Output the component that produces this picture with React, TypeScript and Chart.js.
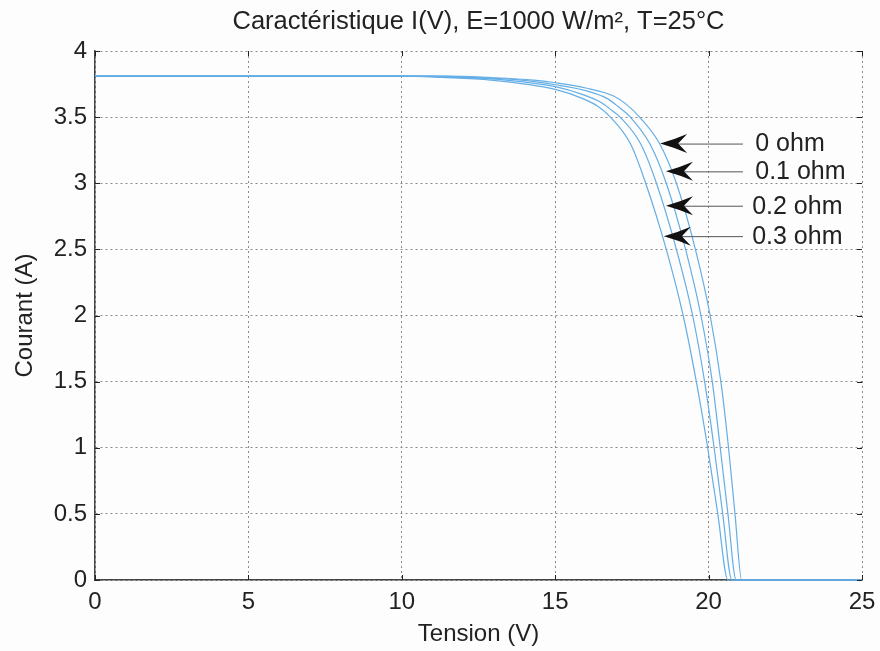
import React, { useEffect, useRef } from "react";
import { Chart, registerables } from "chart.js";

Chart.register(...registerables);

const TITLE = "Caractéristique I(V), E=1000 W/m², T=25°C";
const X_LABEL = "Tension (V)";
const Y_LABEL = "Courant (A)";

const SERIES_NAMES = ["0 ohm", "0.1 ohm", "0.2 ohm", "0.3 ohm"];

const V_R0 = [0, 11.5, 12.8, 14.3, 15, 16, 16.9, 17.3, 17.75, 18.4, 18.95, 19.57, 20.05, 20.4, 20.65, 20.86, 21.08, 25];
const I_R0 = [3.81, 3.81, 3.8, 3.78, 3.76, 3.72, 3.66, 3.6, 3.5, 3.3, 3.0, 2.5, 2.0, 1.5, 1.0, 0.5, 0, 0];

const V_R1 = [0, 11, 12.3, 13.9, 15, 16, 16.7, 17.05, 17.45, 18.08, 18.62, 19.25, 19.75, 20.12, 20.38, 20.63, 20.9, 25];
const I_R1 = [3.81, 3.81, 3.8, 3.78, 3.745, 3.7, 3.64, 3.58, 3.5, 3.3, 3.0, 2.5, 2.0, 1.5, 1.0, 0.5, 0, 0];

const V_R2 = [0, 10.5, 11.8, 13.4, 15, 15.9, 16.5, 16.85, 17.12, 17.78, 18.3, 18.95, 19.48, 19.87, 20.18, 20.46, 20.76, 25];
const I_R2 = [3.81, 3.81, 3.8, 3.78, 3.73, 3.67, 3.61, 3.55, 3.5, 3.3, 3.0, 2.5, 2.0, 1.5, 1.0, 0.5, 0, 0];

const V_R3 = [0, 10, 11.3, 12.9, 15, 15.9, 16.4, 16.8, 17.45, 17.95, 18.62, 19.17, 19.6, 19.97, 20.3, 20.63, 25];
const I_R3 = [3.81, 3.81, 3.8, 3.78, 3.71, 3.64, 3.58, 3.5, 3.3, 3.0, 2.5, 2.0, 1.5, 1.0, 0.5, 0, 0];

const SERIES_V = [V_R0, V_R1, V_R2, V_R3];
const SERIES_I = [I_R0, I_R1, I_R2, I_R3];

// annotation arrows (data coordinates)
const ANNOT_TIP_X = [18.42, 18.61, 18.61, 18.54];
const ANNOT_TIP_Y = [3.3, 3.09, 2.83, 2.6];
const ANNOT_TAIL_X = [21.12, 21.12, 21.12, 21.12];
const ANNOT_TEXT_X = [21.52, 21.52, 21.42, 21.42];

const X_MIN = 0;
const X_MAX = 25;
const X_STEP = 5;
const Y_MIN = 0;
const Y_MAX = 4;
const Y_STEP = 0.5;

const FONT = "'Liberation Sans', Arial, Helvetica, sans-serif";
const TEXT_COLOR = "#222222";
const LINE_COLOR = "#64aee6";

const titlePlugin = {
  id: "centeredTitle",
  afterDraw(chart: any) {
    const ctx = chart.ctx;
    const { left, right } = chart.chartArea;
    ctx.save();
    ctx.fillStyle = TEXT_COLOR;
    ctx.font = `25.5px ${FONT}`;
    ctx.textAlign = "center";
    ctx.textBaseline = "middle";
    ctx.fillText(TITLE, (left + right) / 2, 22);
    ctx.restore();
  },
};

const arrowPlugin = {
  id: "arrowAnnotations",
  afterDatasetsDraw(chart: any) {
    const ctx = chart.ctx;
    const xs = chart.scales.x;
    const ys = chart.scales.y;
    ctx.save();
    for (let i = 0; i < SERIES_NAMES.length; i++) {
      const tx = xs.getPixelForValue(ANNOT_TIP_X[i]);
      const ty = ys.getPixelForValue(ANNOT_TIP_Y[i]);
      const tail = xs.getPixelForValue(ANNOT_TAIL_X[i]);
      const L = 27;
      const H = 9.5;
      const N = 18;
      ctx.strokeStyle = "#555555";
      ctx.lineWidth = 1;
      ctx.beginPath();
      ctx.moveTo(tx + N, ty + 0.5);
      ctx.lineTo(tail, ty + 0.5);
      ctx.stroke();
      ctx.fillStyle = "#111111";
      ctx.beginPath();
      ctx.moveTo(tx, ty);
      ctx.quadraticCurveTo(tx + L * 0.55, ty - H * 0.45, tx + L, ty - H);
      ctx.lineTo(tx + N, ty);
      ctx.lineTo(tx + L, ty + H);
      ctx.quadraticCurveTo(tx + L * 0.55, ty + H * 0.45, tx, ty);
      ctx.closePath();
      ctx.fill();
      ctx.fillStyle = TEXT_COLOR;
      ctx.font = `25px ${FONT}`;
      ctx.textAlign = "left";
      ctx.textBaseline = "middle";
      ctx.fillText(SERIES_NAMES[i], xs.getPixelForValue(ANNOT_TEXT_X[i]), ty + 1);
    }
    ctx.restore();
  },
};

const innerTicksPlugin = {
  id: "innerTicks",
  afterDraw(chart: any) {
    const ctx = chart.ctx;
    const { left, right, top, bottom } = chart.chartArea;
    const xs = chart.scales.x;
    const ys = chart.scales.y;
    const len = 5;
    ctx.save();
    ctx.strokeStyle = "#222222";
    ctx.lineWidth = 1;
    ctx.beginPath();
    xs.ticks.forEach((t: any) => {
      const px = Math.round(xs.getPixelForValue(t.value)) + 0.5;
      ctx.moveTo(px, bottom);
      ctx.lineTo(px, bottom - len);
      ctx.moveTo(px, top);
      ctx.lineTo(px, top + len);
    });
    ys.ticks.forEach((t: any) => {
      const py = Math.round(ys.getPixelForValue(t.value)) + 0.5;
      ctx.moveTo(left, py);
      ctx.lineTo(left + len, py);
      ctx.moveTo(right, py);
      ctx.lineTo(right - len, py);
    });
    ctx.stroke();
    ctx.restore();
  },
};

export default function App() {
  const canvasRef = useRef<HTMLCanvasElement | null>(null);

  useEffect(() => {
    const canvas = canvasRef.current;
    if (!canvas) return;
    const datasets = SERIES_NAMES.map((name, k) => ({
      label: name,
      data: SERIES_V[k].map((v, j) => ({ x: v, y: SERIES_I[k][j] })),
      borderColor: LINE_COLOR,
      backgroundColor: LINE_COLOR,
      borderWidth: 1.2,
      pointRadius: 0,
      fill: false,
      cubicInterpolationMode: "monotone" as const,
      clip: false as any,
    }));

    const chart = new Chart(canvas, {
      type: "line",
      data: { datasets },
      plugins: [arrowPlugin, innerTicksPlugin, titlePlugin],
      options: {
        animation: false,
        responsive: false,
        layout: { padding: { left: 0, right: 18, top: 51, bottom: 0 } },
        plugins: {
          legend: { display: false },
          tooltip: { enabled: false },
          title: { display: false },
        },
        scales: {
          x: {
            type: "linear",
            min: X_MIN,
            max: X_MAX,
            afterFit(scale: any) {
              scale.height = 71;
              scale.paddingLeft = 0;
              scale.paddingRight = 0;
            },
            ticks: {
              stepSize: X_STEP,
              color: TEXT_COLOR,
              font: { family: FONT, size: 24, lineHeight: 1.2 },
              padding: 8,
              maxRotation: 0,
              callback: (v: any) => String(v),
            },
            grid: {
              color: "#8a8a8a",
              lineWidth: 1,
              drawTicks: false,
            },
            border: { display: true, color: "#444444", width: 1.5, dash: [2, 3] },
            title: {
              display: true,
              text: X_LABEL,
              color: TEXT_COLOR,
              font: { family: FONT, size: 24, lineHeight: 1.2 },
              padding: { top: 2.6, bottom: 2.6 },
            },
          },
          y: {
            type: "linear",
            min: Y_MIN,
            max: Y_MAX,
            afterFit(scale: any) {
              scale.width = 95;
              scale.paddingTop = 0;
              scale.paddingBottom = 0;
            },
            ticks: {
              stepSize: Y_STEP,
              color: TEXT_COLOR,
              font: { family: FONT, size: 24, lineHeight: 1.2 },
              padding: 8,
              callback: (v: any) => String(v),
            },
            grid: {
              color: "#8a8a8a",
              lineWidth: 1,
              drawTicks: false,
            },
            border: { display: true, color: "#444444", width: 1.5, dash: [2, 3] },
            title: {
              display: true,
              text: Y_LABEL,
              color: TEXT_COLOR,
              font: { family: FONT, size: 24, lineHeight: 1.2 },
              padding: { top: 10.6, bottom: 10.6 },
            },
          },
        },
      },
    });
    return () => chart.destroy();
  }, []);

  return (
    <div style={{ position: "absolute", left: 0, top: 0, width: 880, height: 651, background: "#fdfdfd" }}>
      <canvas ref={canvasRef} width={880} height={651} style={{ display: "block" }} />
    </div>
  );
}
